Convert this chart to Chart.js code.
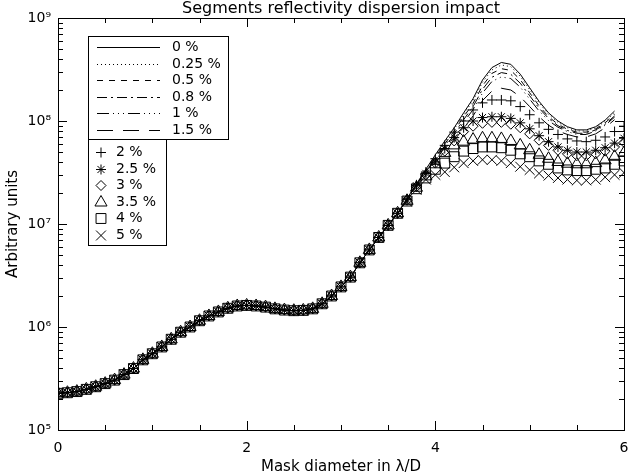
<!DOCTYPE html>
<html>
<head>
<meta charset="utf-8">
<script src="https://cdn.jsdelivr.net/npm/chart.js@4/dist/chart.umd.min.js"></script>
<style>
  html, body { margin: 0; padding: 0; background: #fff; }
</style>
</head>
<body>
<canvas id="chart" width="632" height="476"></canvas>
<script>
// --- 1. Data ---
const xValues = [
  0.0, 0.1, 0.2, 0.3, 0.4, 0.5, 0.6, 0.7, 0.8, 0.9,
  1.0, 1.1, 1.2, 1.3, 1.4, 1.5, 1.6, 1.7, 1.8, 1.9,
  2.0, 2.1, 2.2, 2.3, 2.4, 2.5, 2.6, 2.7, 2.8, 2.9,
  3.0, 3.1, 3.2, 3.3, 3.4, 3.5, 3.6, 3.7, 3.8, 3.9,
  4.0, 4.1, 4.2, 4.3, 4.4, 4.5, 4.6, 4.7, 4.8, 4.9,
  5.0, 5.1, 5.2, 5.3, 5.4, 5.5, 5.6, 5.7, 5.8, 5.9,
  6.0
];

// x = 0.0 .. 3.6 : all curves lie on top of each other
const sharedLow = [
  2.27e5, 2.3e5, 2.36e5, 2.48e5, 2.63e5, 2.82e5, 3.05e5, 3.45e5, 3.95e5, 4.8e5,
  5.5e5, 6.4e5, 7.6e5, 8.9e5, 1.0e6, 1.15e6, 1.28e6, 1.4e6, 1.52e6, 1.6e6,
  1.62e6, 1.6e6, 1.56e6, 1.5e6, 1.46e6, 1.44e6, 1.45e6, 1.5e6, 1.68e6, 2.0e6,
  2.45e6, 3.05e6, 4.2e6, 5.6e6, 7.4e6, 9.7e6, 1.27e7
];

// lines, x = 3.7 .. 5.9
const line0 = [1.77e7, 2.45e7, 3.4e7, 4.7e7, 6.4e7, 8.6e7, 1.2e8, 1.65e8, 2.5e8, 3.3e8, 3.7e8, 3.55e8, 2.85e8, 2.1e8, 1.55e8, 1.2e8, 1.0e8, 8.8e7, 8.2e7, 8.2e7, 8.8e7, 1.02e8, 1.25e8];
const line025 = [1.76e7, 2.43e7, 3.35e7, 4.6e7, 6.25e7, 8.35e7, 1.16e8, 1.58e8, 2.38e8, 3.13e8, 3.5e8, 3.37e8, 2.72e8, 2.02e8, 1.5e8, 1.16e8, 9.7e7, 8.6e7, 8.0e7, 8.0e7, 8.6e7, 9.9e7, 1.2e8];
const line05 = [1.75e7, 2.4e7, 3.3e7, 4.5e7, 6.0e7, 8.0e7, 1.1e8, 1.48e8, 2.2e8, 2.9e8, 3.22e8, 3.1e8, 2.52e8, 1.88e8, 1.4e8, 1.1e8, 9.3e7, 8.3e7, 7.8e7, 7.8e7, 8.4e7, 9.6e7, 1.16e8];
const line08 = [1.74e7, 2.37e7, 3.2e7, 4.35e7, 5.75e7, 7.6e7, 1.03e8, 1.38e8, 2.03e8, 2.66e8, 2.95e8, 2.84e8, 2.33e8, 1.76e8, 1.33e8, 1.06e8, 9.0e7, 8.1e7, 7.6e7, 7.6e7, 8.2e7, 9.3e7, 1.12e8];
const line1 = [1.73e7, 2.35e7, 3.15e7, 4.2e7, 5.55e7, 7.3e7, 9.7e7, 1.29e8, 1.87e8, 2.42e8, 2.68e8, 2.58e8, 2.13e8, 1.63e8, 1.25e8, 1.01e8, 8.7e7, 7.9e7, 7.4e7, 7.4e7, 8.0e7, 9.1e7, 1.09e8];
const line15 = [1.7e7, 2.28e7, 3.0e7, 3.95e7, 5.1e7, 6.5e7, 8.5e7, 1.12e8, 1.58e8, 1.95e8, 2.08e8, 2.0e8, 1.72e8, 1.38e8, 1.1e8, 9.1e7, 8.0e7, 7.4e7, 7.0e7, 7.0e7, 7.5e7, 8.6e7, 1.03e8];

// symbols, x = 3.7 .. 6.0
const mark2 = [1.75e7, 2.4e7, 3.2e7, 4.3e7, 5.8e7, 7.8e7, 1.0e8, 1.28e8, 1.5e8, 1.6e8, 1.6e8, 1.57e8, 1.38e8, 1.15e8, 9.6e7, 8.3e7, 7.4e7, 6.7e7, 6.4e7, 6.3e7, 6.5e7, 7.0e7, 7.9e7, 8.9e7];
const mark25 = [1.72e7, 2.35e7, 3.1e7, 4.0e7, 5.4e7, 6.9e7, 8.6e7, 1.0e8, 1.08e8, 1.1e8, 1.1e8, 1.06e8, 9.6e7, 8.4e7, 7.2e7, 6.3e7, 5.6e7, 5.2e7, 5.0e7, 5.0e7, 5.2e7, 5.5e7, 6.1e7, 6.8e7];
const mark3 = [1.7e7, 2.3e7, 3.0e7, 3.9e7, 5.1e7, 6.4e7, 7.9e7, 8.9e7, 9.5e7, 9.7e7, 9.7e7, 9.3e7, 8.6e7, 7.5e7, 6.5e7, 5.8e7, 5.2e7, 4.8e7, 4.6e7, 4.6e7, 4.8e7, 5.1e7, 5.6e7, 6.2e7];
const mark35 = [1.68e7, 2.25e7, 2.9e7, 3.8e7, 4.9e7, 5.8e7, 6.3e7, 6.6e7, 6.8e7, 6.8e7, 6.7e7, 6.4e7, 5.8e7, 5.2e7, 4.7e7, 4.3e7, 4.0e7, 3.85e7, 3.8e7, 3.8e7, 3.9e7, 4.15e7, 4.5e7, 4.9e7];
const mark4 = [1.67e7, 2.2e7, 2.8e7, 3.4e7, 3.9e7, 4.5e7, 5.1e7, 5.4e7, 5.6e7, 5.6e7, 5.5e7, 5.2e7, 4.8e7, 4.5e7, 4.1e7, 3.8e7, 3.5e7, 3.35e7, 3.3e7, 3.3e7, 3.4e7, 3.5e7, 3.8e7, 4.1e7];
const mark5 = [1.65e7, 2.15e7, 2.7e7, 3.0e7, 3.2e7, 3.55e7, 3.9e7, 4.1e7, 4.2e7, 4.2e7, 4.1e7, 3.9e7, 3.6e7, 3.35e7, 3.1e7, 2.95e7, 2.8e7, 2.7e7, 2.65e7, 2.65e7, 2.7e7, 2.85e7, 3.0e7, 3.15e7];

const lineLabels = ["0 %", "0.25 %", "0.5 %", "0.8 %", "1 %", "1.5 %"];
const markLabels = ["2 %", "2.5 %", "3 %", "3.5 %", "4 %", "5 %"];

const xTickValues = [0, 2, 4, 6];
const xMinorTicks = [0.5, 1, 1.5, 2.5, 3, 3.5, 4.5, 5, 5.5];
const yTickValues = [1e5, 1e6, 1e7, 1e8, 1e9];
const yTickLabels = ["10\u2075", "10\u2076", "10\u2077", "10\u2078", "10\u2079"];
const yMinorFactors = [2, 3, 4, 5, 6, 7, 8, 9];

// --- 2. Styles ---
const FONT = "'DejaVu Sans', 'Liberation Sans', sans-serif";
const lineDashes = [[], [1, 3], [6, 6], [10, 4, 2, 4], [12, 4, 1, 4, 1, 4, 1, 4], [16, 10]];
const markStyles = ["cross", "star", "rectRot", "triangle", "rect", "crossRot"];
const markRadius = [5, 5, 5, 7, 7, 7];

function toPoints(high) {
  return sharedLow.concat(high).map((v, i) => ({ x: xValues[i], y: v }));
}

const lineSeries = [line0, line025, line05, line08, line1, line15];
const markSeries = [mark2, mark25, mark3, mark35, mark4, mark5];

const datasets = [];
lineSeries.forEach((s, i) => {
  datasets.push({
    label: lineLabels[i],
    data: toPoints(s),
    borderColor: "#000",
    borderWidth: 1,
    borderDash: lineDashes[i],
    pointRadius: 0,
    fill: false,
    tension: 0
  });
});
markSeries.forEach((s, i) => {
  datasets.push({
    label: markLabels[i],
    data: toPoints(s),
    showLine: false,
    pointStyle: markStyles[i],
    pointRadius: markRadius[i],
    pointBorderColor: "#000",
    pointBackgroundColor: "rgba(0,0,0,0)",
    pointBorderWidth: 1
  });
});

// --- 3. Plugins: frame with inward ticks, boxed legends ---
const framePlugin = {
  id: "frame",
  afterDatasetsDraw(chart) {
    const { ctx, chartArea: a, scales: { x, y } } = chart;
    ctx.save();
    ctx.strokeStyle = "#000";
    ctx.lineWidth = 1;
    ctx.setLineDash([]);
    ctx.beginPath();
    const xt = (v, len) => {
      const px = Math.round(x.getPixelForValue(v)) + 0.5;
      ctx.moveTo(px, a.bottom); ctx.lineTo(px, a.bottom - len);
      ctx.moveTo(px, a.top); ctx.lineTo(px, a.top + len);
    };
    const yt = (v, len) => {
      const py = Math.round(y.getPixelForValue(v)) + 0.5;
      ctx.moveTo(a.left, py); ctx.lineTo(a.left + len, py);
      ctx.moveTo(a.right, py); ctx.lineTo(a.right - len, py);
    };
    xTickValues.forEach(v => xt(v, 9));
    xMinorTicks.forEach(v => xt(v, 5));
    yTickValues.forEach(v => yt(v, 9));
    yTickValues.slice(0, -1).forEach(d => yMinorFactors.forEach(f => yt(d * f, 5)));
    ctx.stroke();
    ctx.strokeRect(Math.round(a.left) + 0.5, Math.round(a.top) + 0.5,
      Math.round(a.right - a.left), Math.round(a.bottom - a.top));
    ctx.restore();
  }
};

const legendPlugin = {
  id: "boxLegend",
  afterDraw(chart) {
    const ctx = chart.ctx;
    ctx.save();
    ctx.strokeStyle = "#000";
    ctx.fillStyle = "#000";
    ctx.lineWidth = 1;
    ctx.setLineDash([]);
    ctx.strokeRect(88.5, 36.5, 140, 103);
    ctx.strokeRect(88.5, 139.5, 78, 106);
    ctx.font = "14px " + FONT;
    ctx.textBaseline = "middle";

    lineLabels.forEach((lab, i) => {
      const y = Math.round(47 + i * 16.6) + 0.5;
      ctx.setLineDash(lineDashes[i]);
      ctx.beginPath();
      ctx.moveTo(97, y);
      ctx.lineTo(160, y);
      ctx.stroke();
      ctx.setLineDash([]);
      ctx.fillText(lab, 172, y);
    });

    markLabels.forEach((lab, i) => {
      const y = Math.round(152 + i * 16.6) + 0.5;
      ctx.fillStyle = "rgba(0,0,0,0)";
      Chart.helpers.drawPoint(ctx, {
        pointStyle: markStyles[i], radius: markRadius[i], borderWidth: 1, rotation: 0
      }, 101, y);
      ctx.fillStyle = "#000";
      ctx.fillText(lab, 116, y);
    });
    ctx.restore();
  }
};

// --- 4. Chart ---
const ctx = document.getElementById("chart").getContext("2d");
const chart = new Chart(ctx, {
  type: "line",
  data: { datasets },
  options: {
    responsive: false,
    animation: false,
    layout: { padding: { right: 4 } },
    plugins: {
      legend: { display: false },
      tooltip: { enabled: false },
      title: {
        display: true,
        fullSize: false,
        text: "Segments reflectivity dispersion impact",
        color: "#000",
        font: { family: FONT, size: 16, weight: "normal", lineHeight: 1.125 },
        padding: { top: 0, bottom: 0 }
      }
    },
    scales: {
      x: {
        type: "linear",
        min: 0,
        max: 6,
        grid: { display: false, drawTicks: false },
        border: { display: false },
        afterBuildTicks(s) { s.ticks = xTickValues.map(v => ({ value: v })); },
        ticks: { color: "#000", font: { family: FONT, size: 14 }, padding: 10, maxRotation: 0, autoSkip: false },
        title: { display: true, text: "Mask diameter in \u03bb/D", color: "#000", font: { family: FONT, size: 15 }, padding: 0 },
        afterFit(s) { s.height = 46; s.paddingLeft = 0; s.paddingRight = 0; }
      },
      y: {
        type: "logarithmic",
        min: 1e5,
        max: 1e9,
        grid: { display: false, drawTicks: false },
        border: { display: false },
        afterBuildTicks(s) { s.ticks = yTickValues.map(v => ({ value: v })); },
        ticks: {
          color: "#000",
          font: { family: FONT, size: 14 },
          padding: 7,
          autoSkip: false,
          callback: v => yTickLabels[yTickValues.indexOf(v)]
        },
        title: { display: true, text: "Arbitrary units", color: "#000", font: { family: FONT, size: 15 }, padding: { top: 4, bottom: 0 } },
        afterFit(s) { s.width = 58; }
      }
    }
  },
  plugins: [framePlugin, legendPlugin]
});
</script>
</body>
</html>
